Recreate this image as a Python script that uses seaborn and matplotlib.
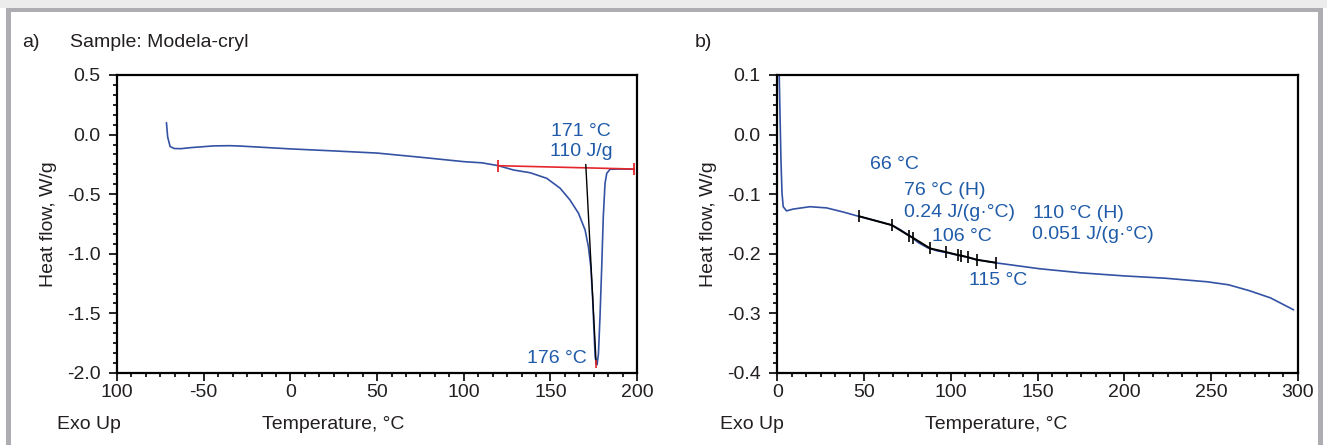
import numpy as np
import pandas as pd
import matplotlib
matplotlib.use("Agg")
import matplotlib.pyplot as plt
import seaborn as sns
from matplotlib.ticker import AutoMinorLocator, FixedLocator
from matplotlib.patches import Rectangle

# ---- panel a: Modela-cryl melting endotherm ----
a_temp = [-71.5, -70.8, -69.4, -67.0, -63.0, -57.9, -44.4, -35.0, -29.1, -9.8, 0.0,
          25.0, 50.0, 75.0, 100.0, 110.6, 120.0, 128.7, 138.3, 147.9, 155.6, 161.3,
          166.2, 170.0, 171.9, 173.3, 174.4, 175.2, 175.8, 176.3, 176.9, 177.7, 178.6,
          179.6, 180.5, 181.5, 182.5, 184.4, 190.2, 198.3]
a_flow = [0.10, -0.02, -0.10, -0.117, -0.118, -0.110, -0.095, -0.093, -0.096, -0.112, -0.12,
          -0.137, -0.155, -0.19, -0.227, -0.237, -0.261, -0.297, -0.32, -0.367, -0.45, -0.549,
          -0.66, -0.80, -0.94, -1.108, -1.387, -1.667, -1.863, -1.905, -1.93, -1.84, -1.528,
          -1.108, -0.689, -0.409, -0.325, -0.291, -0.289, -0.291]
a_base_x = [120.0, 198.3]
a_base_y = [-0.261, -0.289]
a_peak_x = [170.4, 176.4]
a_peak_y = [-0.25, -1.925]
a_xticks = [-100, -50, 0, 50, 100, 150, 200]
a_xlabels = ["100", "-50", "0", "50", "100", "150", "200"]
a_yticks = [0.5, 0.0, -0.5, -1.0, -1.5, -2.0]
a_ylabels = ["0.5", "0.0", "-0.5", "-1.0", "-1.5", "-2.0"]

# ---- panel b: glass transitions ----
b_temp = [0.9, 1.0, 1.4, 2.0, 2.6, 3.3, 5.2, 9.0, 18.7, 28.3, 38.0, 46.6, 56.0, 66.0,
          71.0, 76.9, 81.0, 86.6, 92.0, 97.5, 104.8, 110.0, 114.5, 125.4, 150.8, 175.1,
          199.3, 223.6, 247.8, 260.0, 272.1, 284.2, 297.5]
b_flow = [0.13, 0.10, 0.041, -0.043, -0.098, -0.121, -0.128, -0.125, -0.121, -0.123, -0.130,
          -0.137, -0.144, -0.152, -0.160, -0.171, -0.181, -0.190, -0.195, -0.198, -0.203,
          -0.206, -0.210, -0.215, -0.225, -0.232, -0.237, -0.241, -0.247, -0.252, -0.262,
          -0.274, -0.294]
b_mark_x = [47, 66, 76, 78, 88, 97, 104, 106, 110, 115, 126]
b_mark_y = [-0.137, -0.152, -0.170, -0.173, -0.191, -0.197, -0.202, -0.203, -0.206, -0.210, -0.215]
b_xticks = [0, 50, 100, 150, 200, 250, 300]
b_yticks = [0.1, 0.0, -0.1, -0.2, -0.3, -0.4]
b_ylabels = ["0.1", "0.0", "-0.1", "-0.2", "-0.3", "-0.4"]

a_notes = [("171 °C", 167.7, 0.03, "center"), ("110 J/g", 167.7, -0.146, "center"),
           ("176 °C", 171.2, -1.877, "right")]
b_notes = [("66 °C", 53.5, -0.05), ("76 °C (H)", 72.9, -0.093), ("0.24 J/(g·°C)", 72.9, -0.131),
           ("106 °C", 88.9, -0.171), ("115 °C", 110.4, -0.245),
           ("110 °C (H)", 147.2, -0.132), ("0.051 J/(g·°C)", 146.5, -0.168)]

BLUE = "#3452a4"
TXT_BLUE = "#1f5ba8"
RED = "#e5262b"
DARK = "#231f20"
FS = 14

sns.set_theme(style="white")
plt.rcParams["font.family"] = ["Liberation Sans", "DejaVu Sans"]
plt.rcParams["text.color"] = DARK

fig = plt.figure(figsize=(13.27, 4.45), dpi=100)

# grey frame around the figure
fig.add_artist(Rectangle((0, 0.982), 1, 0.018, transform=fig.transFigure, color="#ececec", lw=0))
fig.add_artist(Rectangle((0.0045, 0.973), 0.9925, 0.009, transform=fig.transFigure, color="#aeaeb2", lw=0))
fig.add_artist(Rectangle((0.0045, 0), 0.0038, 0.982, transform=fig.transFigure, color="#aeaeb2", lw=0))
fig.add_artist(Rectangle((0.9932, 0), 0.0038, 0.982, transform=fig.transFigure, color="#aeaeb2", lw=0))

ax_a = fig.add_axes([0.0882, 0.1618, 0.3919, 0.6697])
ax_b = fig.add_axes([0.5859, 0.1618, 0.3922, 0.6697])


def style_axes(ax, xlim, ylim, xticks, xlabels, yticks, ylabels):
    ax.set_xlim(*xlim)
    ax.set_ylim(*ylim)
    ax.xaxis.set_major_locator(FixedLocator(xticks))
    ax.set_xticklabels(xlabels)
    ax.yaxis.set_major_locator(FixedLocator(yticks))
    ax.set_yticklabels(ylabels)
    ax.xaxis.set_minor_locator(AutoMinorLocator(6))
    ax.yaxis.set_minor_locator(AutoMinorLocator(6))
    ax.tick_params(which="both", direction="out", color="black", width=1.2,
                   bottom=True, left=True, top=False, right=False,
                   labelsize=FS, labelcolor=DARK)
    ax.tick_params(axis="y", pad=6)
    ax.tick_params(axis="x", pad=2)
    ax.tick_params(which="major", length=6)
    ax.tick_params(which="minor", length=3)
    for sp in ax.spines.values():
        sp.set_color("black")
        sp.set_linewidth(1.6)
    ax.set_xlabel("")
    ax.set_ylabel("Heat flow, W/g", fontsize=FS, color=DARK, labelpad=7)


# panel a
df_a = pd.DataFrame({"temp": a_temp, "flow": a_flow})
sns.lineplot(data=df_a, x="temp", y="flow", ax=ax_a, color=BLUE, lw=1.2, sort=False)
sns.lineplot(x=a_base_x, y=a_base_y, ax=ax_a, color=RED, lw=1.2, marker="|",
             markersize=9, markeredgewidth=1.3, markeredgecolor=RED)
sns.lineplot(x=a_peak_x, y=a_peak_y, ax=ax_a, color="black", lw=1.0)
ax_a.plot(a_peak_x[1], a_peak_y[1], marker="|", color=RED, ms=6, mew=1.2)
style_axes(ax_a, (-100, 200), (-2.0, 0.5), a_xticks, a_xlabels, a_yticks, a_ylabels)
for txt, x, y, ha in a_notes:
    ax_a.text(x, y, txt, color=TXT_BLUE, fontsize=FS, ha=ha, va="center")

# panel b
df_b = pd.DataFrame({"temp": b_temp, "flow": b_flow})
sns.lineplot(data=df_b, x="temp", y="flow", ax=ax_b, color=BLUE, lw=1.2, sort=False)
sns.lineplot(x=b_mark_x, y=b_mark_y, ax=ax_b, color="black", lw=1.4, sort=False)
ax_b.plot(b_mark_x, b_mark_y, ls="none", marker="|", color="black", ms=9, mew=1.2)
style_axes(ax_b, (0, 300), (-0.4, 0.1), b_xticks, [str(t) for t in b_xticks],
           b_yticks, b_ylabels)
for txt, x, y in b_notes:
    ax_b.text(x, y, txt, color=TXT_BLUE, fontsize=FS, ha="left", va="center")

# panel captions and footers
fig.text(0.0166, 0.9056, "a)", fontsize=FS, color=DARK, va="center")
fig.text(0.0528, 0.9056, "Sample: Modela-cryl", fontsize=FS, color=DARK, va="center")
fig.text(0.5237, 0.9056, "b)", fontsize=FS, color=DARK, va="center")
for x0 in (0.043, 0.5426):
    fig.text(x0, 0.047, "Exo Up", fontsize=FS, color=DARK, va="center")
for x0 in (0.1974, 0.697):
    fig.text(x0, 0.047, "Temperature, °C", fontsize=FS, color=DARK, va="center")

fig.savefig("out.png", dpi=100)
